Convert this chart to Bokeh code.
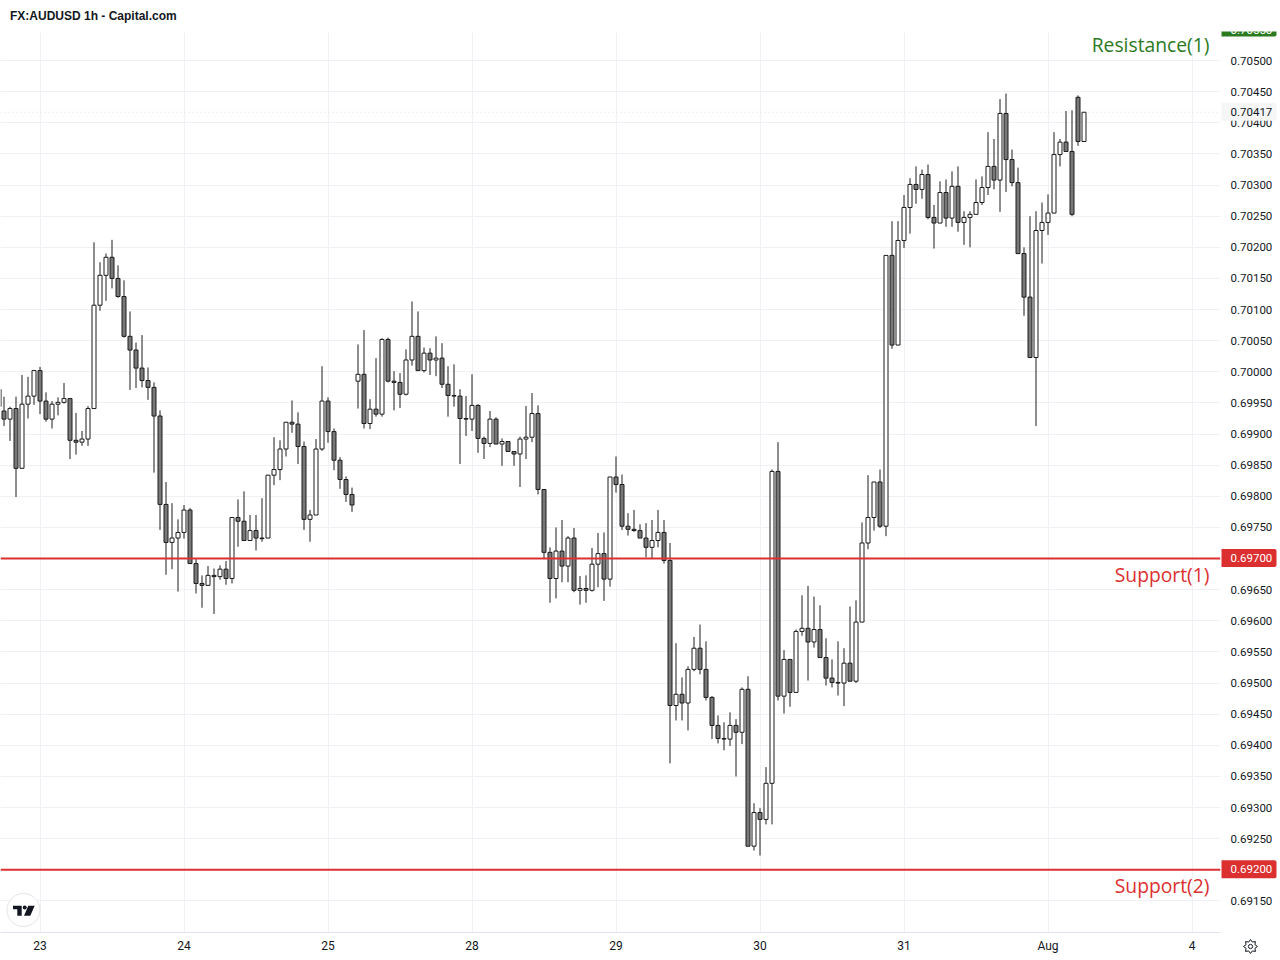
import math
import numpy as np
from bokeh.plotting import figure
from bokeh.layouts import column
from bokeh.models import (ColumnDataSource, Range1d, FixedTicker, PrintfTickFormatter, Label, Span,
                          BoxAnnotation, PolyAnnotation)
from bokeh.embed import file_html
from bokeh.resources import INLINE

opens = [
 .69937,.69924,.69941,.69845,.69948,.69961,.70002,.69953,.69924,.69948,
 .69951,.69957,.69890,.69887,.69892,.69941,.70107,.70155,.70184,.70150,
 .70121,.70057,.70035,.70006,.69986,.69975,.69929,.69787,.69726,.69733,
 .69742,.69778,.69692,.69660,.69657,.69673,.69671,.69683,.69668,.69766,
 .69760,.69729,.69745,.69733,.69733,.69834,.69843,.69876,.69919,.69916,
 .69880,.69763,.69770,.69876,.69953,.69904,.69858,.69827,.69803,.69985,
 .69996,.69917,.69940,.69932,.70052,.69985,.69983,.69964,.70019,.70057,
 .70002,.70030,.70019,.70022,.69980,.69962,.69961,.69925,.69924,.69946,
 .69893,.69885,.69924,.69884,.69888,.69872,.69868,.69892,.69895,.69933,
 .69811,.69710,.69668,.69712,.69688,.69733,.69649,.69652,.69649,.69691,
 .69708,.69667,.69831,.69819,.69752,.69747,.69745,.69733,.69718,.69729,
 .69742,.69697,.69464,.69482,.69468,.69522,.69556,.69522,.69477,.69432,
 .69411,.69410,.69432,.69421,.69490,.69238,.69292,.69281,.69339,.69840,
 .69479,.69538,.69485,.69583,.69588,.69566,.69586,.69541,.69508,.69501,
 .69500,.69532,.69503,.69598,.69725,.69766,.69823,.69752,.70187,.70043,
 .70211,.70264,.70301,.70293,.70317,.70248,.70239,.70288,.70247,.70298,
 .70240,.70248,.70253,.70272,.70296,.70330,.70308,.70415,.70341,.70304,
 .70190,.70120,.70023,.70227,.70240,.70255,.70349,.70369,.70354,.70441,
 .70370,
]
highs = [
 .69960,.69944,.69960,.69995,.69992,.70003,.70008,.69967,.69953,.69959,
 .69982,.69957,.69934,.69905,.69945,.70208,.70176,.70190,.70212,.70171,
 .70147,.70097,.70047,.70059,.70007,.69983,.69938,.69823,.69789,.69763,
 .69786,.69781,.69699,.69673,.69688,.69684,.69689,.69696,.69766,.69795,
 .69808,.69770,.69770,.69797,.69834,.69895,.69890,.69919,.69954,.69935,
 .69888,.69778,.69892,.70009,.69959,.69909,.69863,.69832,.69814,.70044,
 .70067,.69956,.70022,.70054,.70055,.70001,.69998,.70036,.70113,.70097,
 .70039,.70038,.70057,.70046,.70009,.70012,.69972,.69961,.69996,.69948,
 .69896,.69937,.69927,.69893,.69888,.69872,.69896,.69945,.69966,.69946,
 .69811,.69718,.69750,.69762,.69736,.69749,.69672,.69673,.69717,.69741,
 .69742,.69831,.69864,.69835,.69773,.69778,.69755,.69757,.69762,.69778,
 .69762,.69725,.69564,.69509,.69527,.69574,.69594,.69567,.69479,.69448,
 .69437,.69453,.69442,.69493,.69511,.69307,.69299,.69365,.69843,.69887,
 .69553,.69538,.69586,.69641,.69656,.69639,.69625,.69572,.69538,.69567,
 .69556,.69623,.69633,.69758,.69834,.69823,.69843,.70187,.70242,.70242,
 .70284,.70311,.70330,.70325,.70333,.70268,.70306,.70309,.70322,.70330,
 .70258,.70258,.70309,.70314,.70385,.70374,.70438,.70447,.70357,.70328,
 .70200,.70250,.70258,.70272,.70285,.70385,.70374,.70419,.70420,.70444,
 .70417,
]
lows = [
 .69913,.69889,.69799,.69845,.69925,.69947,.69932,.69920,.69909,.69930,
 .69949,.69860,.69867,.69881,.69881,.69941,.70098,.70114,.70134,.70119,
 .70055,.69971,.69974,.69975,.69955,.69838,.69746,.69674,.69683,.69647,
 .69732,.69692,.69644,.69621,.69657,.69611,.69666,.69658,.69660,.69719,
 .69729,.69729,.69713,.69727,.69733,.69818,.69826,.69864,.69902,.69852,
 .69746,.69727,.69770,.69873,.69886,.69842,.69812,.69791,.69775,.69941,
 .69909,.69908,.69928,.69928,.69983,.69938,.69942,.69962,.70010,.70002,
 .69999,.69995,.69993,.69974,.69928,.69944,.69852,.69897,.69905,.69870,
 .69860,.69879,.69884,.69849,.69872,.69849,.69815,.69860,.69887,.69803,
 .69699,.69629,.69636,.69662,.69662,.69646,.69626,.69629,.69647,.69654,
 .69632,.69655,.69806,.69746,.69737,.69743,.69733,.69702,.69700,.69718,
 .69692,.69371,.69440,.69440,.69424,.69519,.69514,.69472,.69410,.69403,
 .69392,.69399,.69350,.69402,.69238,.69231,.69223,.69273,.69273,.69472,
 .69451,.69462,.69485,.69576,.69504,.69557,.69543,.69496,.69493,.69480,
 .69463,.69503,.69500,.69598,.69715,.69745,.69749,.69736,.70037,.70043,
 .70199,.70222,.70270,.70278,.70245,.70198,.70239,.70233,.70233,.70225,
 .70204,.70200,.70253,.70268,.70284,.70293,.70257,.70289,.70298,.70189,
 .70090,.70022,.69913,.70174,.70220,.70255,.70330,.70354,.70250,.70363,
 .70370,
]
closes = [
 .69924,.69941,.69845,.69948,.69961,.70002,.69953,.69924,.69948,.69951,
 .69957,.69890,.69887,.69892,.69941,.70107,.70155,.70184,.70150,.70121,
 .70057,.70035,.70006,.69986,.69975,.69929,.69787,.69726,.69733,.69742,
 .69778,.69692,.69660,.69657,.69673,.69671,.69683,.69668,.69766,.69760,
 .69729,.69745,.69733,.69732,.69834,.69843,.69876,.69919,.69916,.69880,
 .69763,.69770,.69876,.69953,.69904,.69858,.69827,.69803,.69786,.69996,
 .69917,.69940,.69932,.70052,.69985,.69983,.69964,.70019,.70057,.70002,
 .70030,.70019,.70022,.69980,.69962,.69961,.69925,.69924,.69946,.69893,
 .69885,.69924,.69884,.69888,.69872,.69868,.69892,.69895,.69933,.69811,
 .69710,.69668,.69712,.69688,.69733,.69649,.69652,.69649,.69691,.69708,
 .69667,.69831,.69819,.69752,.69747,.69745,.69733,.69718,.69729,.69742,
 .69697,.69464,.69482,.69468,.69522,.69556,.69522,.69477,.69432,.69411,
 .69410,.69432,.69421,.69490,.69238,.69292,.69281,.69339,.69840,.69479,
 .69538,.69485,.69583,.69588,.69566,.69586,.69541,.69508,.69501,.69500,
 .69532,.69503,.69598,.69725,.69766,.69823,.69752,.70187,.70043,.70211,
 .70264,.70301,.70293,.70317,.70248,.70239,.70288,.70247,.70298,.70240,
 .70248,.70253,.70272,.70296,.70330,.70308,.70415,.70341,.70304,.70190,
 .70120,.70023,.70227,.70240,.70255,.70349,.70369,.70354,.70253,.70370,
 .70417,
]
# one wick of an earlier candle, cut by the left edge of the chart
edge_high, edge_low = .69972, .69944

price_ticks = [.6915,.6920,.6925,.6930,.6935,.6940,.6945,.6950,.6955,.6960,.6965,.6970,
               .6975,.6980,.6985,.6990,.6995,.7000,.7005,.7010,.7015,.7020,.7025,.7030,
               .7035,.7040,.7045,.7050]
date_positions = [6, 30, 54, 78, 102, 126, 150, 174, 198]
date_labels = ["23", "24", "25", "28", "29", "30", "31", "Aug", "4"]

support_levels = [0.69700, 0.69200]
support_names = ["Support(1)", "Support(2)"]
resistance_level = 0.70550
resistance_name = "Resistance(1)"
last_price = 0.70417
title_text = "FX:AUDUSD 1h - Capital.com"

INK = "#131722"
CANDLE = "#1c1c1c"
DOWN = "#787878"
RED = "#dc3030"
GREEN = "#2b7a1f"
GRID = "#f0f1f5"
AXIS_FONT = "Roboto"
AXIS_SIZE = "11.5px"

FRAME_W, FRAME_H, TOP = 1220, 900, 32

# helpers for the small furniture (logo, settings icon)
def px_x(px):
    return (px - 3.5) / 6.0
def px_y(py):
    return (70597.3 - 1.6064 * py) / 1e5
TAG_HALF = 9 * 1.6064e-5   # half a tag's height on the price scale

x_left, x_right = px_x(0), px_x(FRAME_W)
y_bottom, y_top = px_y(TOP + FRAME_H + 0.5), px_y(TOP + 0.5)

p = figure(width=1280, height=960, frame_width=FRAME_W, frame_height=FRAME_H,
           output_backend="svg", toolbar_location=None,
           x_range=Range1d(x_left, x_right), y_range=Range1d(y_bottom, y_top),
           x_axis_location="below", y_axis_location="right",
           min_border_left=0, min_border_right=60, min_border_top=TOP, min_border_bottom=28,
           background_fill_color="white", border_fill_color="white", outline_line_color=None)
p.frame_align = False

# axes
xa = p.xaxis[0]
xa.ticker = FixedTicker(ticks=date_positions)
xa.major_label_overrides = dict(zip(date_positions, date_labels))
xa.major_tick_line_color = None
xa.major_tick_out = 0
xa.minor_tick_line_color = None
xa.axis_line_color = "#e0e3eb"
xa.major_label_text_font = AXIS_FONT
xa.major_label_text_font_size = "12px"
xa.major_label_text_color = INK
xa.major_label_standoff = 6

ya = p.yaxis[0]
ya.ticker = FixedTicker(ticks=price_ticks)
ya.formatter = PrintfTickFormatter(format="%.5f")
ya.major_tick_line_color = None
ya.major_tick_out = 0
ya.minor_tick_line_color = None
ya.axis_line_color = None
ya.major_label_text_font = AXIS_FONT
ya.major_label_text_font_size = AXIS_SIZE
ya.major_label_text_color = INK
ya.major_label_standoff = 10

p.xgrid.ticker = FixedTicker(ticks=date_positions)
p.ygrid.ticker = FixedTicker(ticks=price_ticks)
p.xgrid.grid_line_color = GRID
p.ygrid.grid_line_color = GRID
p.xgrid.grid_line_width = 1
p.ygrid.grid_line_width = 1

# last price dotted line
p.add_layout(Span(location=last_price, dimension="width", line_color="#dcdcdc",
                  line_dash="1 3", line_width=1, level="underlay"))

# support lines
for lv in support_levels:
    p.add_layout(Span(location=lv, dimension="width", line_color=RED, line_width=2, level="glyph"))

# candles
idx = np.arange(len(opens))
o = np.array(opens); c = np.array(closes)
src = ColumnDataSource(dict(
    x=idx, high=highs, low=lows,
    top=np.maximum(o, c), bottom=np.minimum(o, c),
    fill=["white" if cc >= oo else DOWN for oo, cc in zip(opens, closes)],
))
p.segment(x0=[px_x(0.5)], y0=[edge_high], x1=[px_x(0.5)], y1=[edge_low], line_color=CANDLE, line_width=1)
p.segment("x", "high", "x", "low", source=src, line_color=CANDLE, line_width=1)
p.vbar(x="x", width=4 / 6, top="top", bottom="bottom", source=src,
       fill_color="fill", line_color=CANDLE, line_width=1)

# logo
p.scatter([px_x(23)], [px_y(910)], size=33, marker="circle", fill_color="white",
          line_color="#e3e5ea", line_width=1)
p.patches(
    [[px_x(v) for v in (12.5, 21.2, 21.2, 16.8, 16.8, 12.5)],
     [px_x(v) for v in (27.8, 34.2, 29.8, 23.5)]],
    [[px_y(v) for v in (905.7, 905.7, 915.7, 915.7, 909.3, 909.3)],
     [px_y(v) for v in (905.7, 905.7, 915.7, 915.7)]],
    fill_color=INK, line_color=None)
p.scatter([px_x(24.2)], [px_y(907.6)], size=4, marker="circle", fill_color=INK, line_color=None)

# level names
for lv, name in zip(support_levels, support_names):
    p.add_layout(Label(x=px_x(1209), y=lv, y_offset=-15.5, text=name, text_align="right",
                       text_baseline="middle", text_font="Open Sans", text_font_size="19.3px",
                       text_color=RED))
p.add_layout(Label(x=px_x(1209), y=resistance_level, y_offset=-15.5, text=resistance_name,
                   text_align="right", text_baseline="middle", text_font="Open Sans",
                   text_font_size="19.3px", text_color=GREEN))

# a transparent sheet over the whole window, on the same price scale, for what lies outside the frame
sheet = figure(width=1280, height=960, output_backend="svg", toolbar_location=None,
               x_range=Range1d(px_x(0), px_x(1280)), y_range=Range1d(px_y(960), px_y(0)),
               x_axis_type=None, y_axis_type=None,
               min_border_left=0, min_border_right=0, min_border_top=0, min_border_bottom=0,
               background_fill_alpha=0, border_fill_alpha=0, outline_line_color=None)
sheet.frame_align = False
sheet.xgrid.visible = False
sheet.ygrid.visible = False
sheet.styles = {"position": "absolute", "left": "-1px", "top": "-1px"}

def tag(level, text, fill, color, box_shift=0, text_shift=0):
    sheet.add_layout(BoxAnnotation(left=px_x(1222), right=px_x(1277),
                                   bottom=level - TAG_HALF + box_shift * 1.6064e-5,
                                   top=level + TAG_HALF + box_shift * 1.6064e-5,
                                   fill_color=fill, fill_alpha=1, line_color=None,
                                   border_radius=(0, 2, 2, 0)))
    sheet.add_layout(Label(x=px_x(1222), x_offset=9, y=level, y_offset=text_shift, text=text,
                           text_align="left", text_baseline="middle", text_font=AXIS_FONT,
                           text_font_size=AXIS_SIZE, text_color=color))

tag(last_price, f"{last_price:.5f}", "#f6f6f7", INK)
for lv in support_levels:
    tag(lv, f"{lv:.5f}", RED, "white")
tag(resistance_level, f"{resistance_level:.5f}", GREEN, "white", box_shift=1.5, text_shift=-1)
# the top edge of the chart cuts the resistance tag
sheet.add_layout(BoxAnnotation(left=px_x(1215), right=px_x(1281), bottom=px_y(32), top=px_y(0),
                               fill_color="white", fill_alpha=1, line_color=None))

# title
sheet.add_layout(Label(x=px_x(10.5), y=px_y(16.5), text=title_text, text_align="left",
                       text_baseline="middle", text_font="Liberation Sans",
                       text_font_style="bold", text_font_size="12px", text_color=INK))

# settings icon under the price scale
cx, cy = 1251, 947
gear_x, gear_y = [], []
for i in range(16):
    r = 7.0 if i % 2 == 0 else 4.8
    a = i * math.pi / 8
    gear_x.append(px_x(cx + r * math.cos(a)))
    gear_y.append(px_y(cy + r * math.sin(a)))
sheet.add_layout(PolyAnnotation(xs=gear_x, ys=gear_y, fill_color="white", fill_alpha=1,
                                line_color=INK, line_alpha=1, line_width=1))
sheet.add_layout(PolyAnnotation(xs=[px_x(cx + 2.2 * math.cos(i * math.pi / 4)) for i in range(8)],
                                ys=[px_y(cy + 2.2 * math.sin(i * math.pi / 4)) for i in range(8)],
                                fill_color="white", fill_alpha=1, line_color=INK, line_alpha=1,
                                line_width=1))

page = column(p, sheet)
open("out.html", "w").write(file_html(page, INLINE))
